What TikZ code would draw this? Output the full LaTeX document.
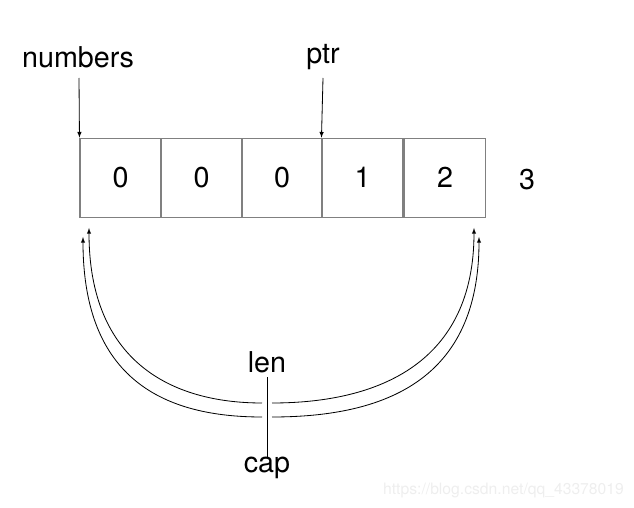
\documentclass[tikz,border=0pt]{standalone}
\usepackage{fontspec}
\setmainfont{TeX Gyre Heros}
\usepackage{tikz}
\usetikzlibrary{arrows}

\definecolor{boxgray}{RGB}{128,128,128}
\definecolor{markgray}{RGB}{238,238,238}

\tikzset{
  cell/.style={draw=boxgray, line width=0.9pt, minimum width=2.43cm, minimum height=2.37cm, inner sep=0pt, font=\fontsize{24.5}{28}\selectfont},
  label/.style={font=\fontsize{24.5}{28}\selectfont, inner sep=2pt},
  link/.style={black, line width=0.7pt, -latex}
}

\begin{document}
\begin{tikzpicture}[x=0.03cm, y=-0.03cm]
        \useasboundingbox (0,0) rectangle (634,508);

        % the slice cells
        \node[cell] (c0) at (120.5,177.75) {0};
        \node[cell] (c1) at (201.5,177.75) {0};
        \node[cell] (c2) at (282,177.75) {0};
        \node[cell] (c3) at (362.5,177.75) {1};
        \node[cell] (c4) at (445,177.75) {2};
        \node[label] (three) at (527,180) {3};

        % pointers
        \node[label] (numbers) at (78,57) {numbers};
        \node[label] (ptr) at (323,57) {ptr};
        \coordinate (nstart) at (79,78);
        \coordinate (pstart) at (323,78);
        \draw [link] (nstart) -- (c0.north west);
        \draw [link] (pstart) -- (c3.north west);

        % len and cap
        \node[label] (len) at (267,362) {len};
        \node[label] (cap) at (267,468) {cap};
        \draw [black, line width=0.8pt] (267,377) -- (267,457);

        \coordinate (lin) at (262,403);
        \coordinate (rin) at (272,403);
        \coordinate (lout) at (262,417);
        \coordinate (rout) at (272,417);

        \draw [link] (lin) .. controls (172,403) and (89,362) .. (89,228);
        \draw [link] (rin) .. controls (380,403) and (474,362) .. (474,228);
        \draw [link] (lout) .. controls (165,417) and (83,380) .. (83,237);
        \draw [link] (rout) .. controls (385,417) and (479,380) .. (479,237);

        \node[markgray, font=\fontsize{13.4}{15}\selectfont, inner sep=0pt] (mark) at (503.5,490) {https://blog.csdn.net/qq\_43378019};

        \end{tikzpicture}
\end{document}
